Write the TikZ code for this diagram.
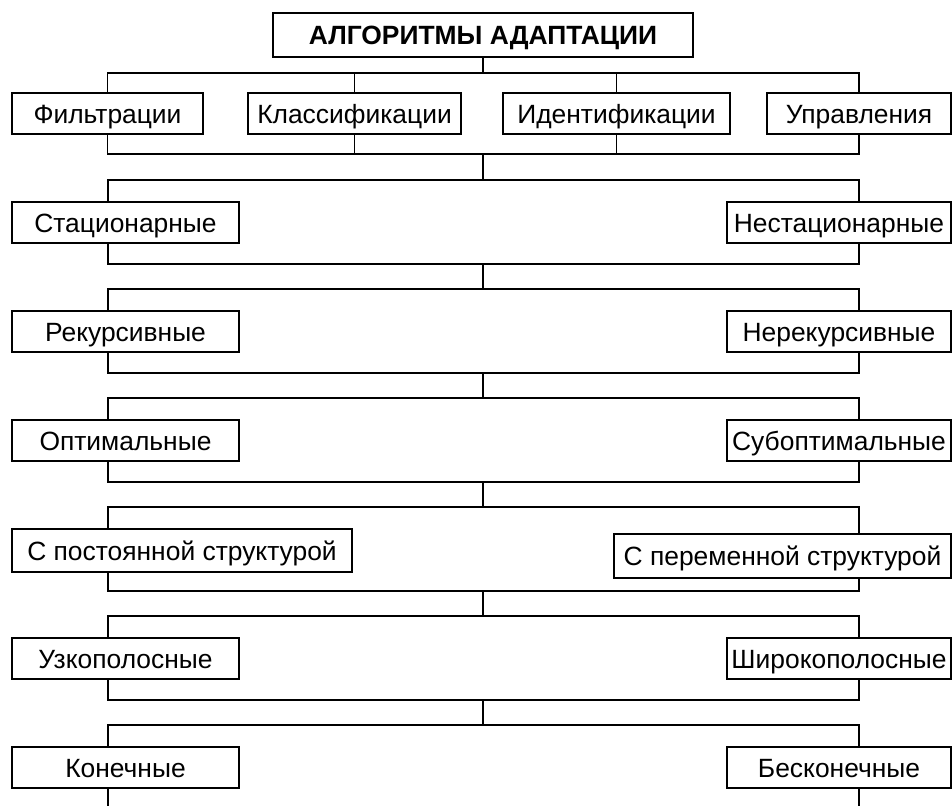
\documentclass[tikz,border=0pt]{standalone}
\usepackage{fontspec}
\setmainfont{Liberation Sans}
\usepackage{tikz}
\usetikzlibrary{positioning,calc}

\begin{document}
\begin{tikzpicture}[
    x=1pt, y=-1pt,
    box/.style={draw=black, line width=1.8pt, fill=white, minimum height=41pt, inner sep=0pt, text height=19pt, text depth=0pt, font=\fontsize{26.4}{30}\selectfont},
    head/.style={box, minimum width=420pt, minimum height=44pt, font=\fontsize{26.4}{30}\selectfont\bfseries},
    lbox/.style={box, minimum width=227pt},
    rbox/.style={box, minimum width=224pt},
    wire/.style={line width=1.8pt}
  ]
    \useasboundingbox (0,0) rectangle (952,806);
    \coordinate (sl) at (108,0);
    \coordinate (sr) at (859,0);
    \coordinate (bottom) at (483,806);

    % top level
    \node[head] (title) at (483,35) {АЛГОРИТМЫ АДАПТАЦИИ};
    \node[box, minimum width=191pt] (filt) at (107.5,113.5) {Фильтрации};
    \node[box, minimum width=213pt] (klass) at (354.5,113.5) {Классификации};
    \node[box, minimum width=227pt] (ident) at (616.5,113.5) {Идентификации};
    \node[box, minimum width=184pt] (upr) at (859,113.5) {Управления};
    \coordinate (top0) at (483,73);
    \coordinate (low0) at (483,154);
    \draw[wire] (title.south) -- (top0);
    \draw[wire] (filt.north) |- (top0) -| (upr.north);
    \draw[wire] (klass.north) -- (klass.north |- top0);
    \draw[wire] (ident.north) -- (ident.north |- top0);
    \draw[wire] (filt.south) |- (low0) -| (upr.south);
    \draw[wire] (klass.south) -- (klass.south |- low0);
    \draw[wire] (ident.south) -- (ident.south |- low0);

    % pairs
    \node[lbox] (stat) at (125.5,222.5) {Стационарные};
    \node[rbox] (nestat) at (839,222.5) {Нестационарные};
    \node[lbox] (rek) at (125.5,331.5) {Рекурсивные};
    \node[rbox] (nerek) at (839,331.5) {Нерекурсивные};
    \node[lbox] (opt) at (125.5,440.5) {Оптимальные};
    \node[rbox] (subopt) at (839,440.5) {Субоптимальные};
    \node[box, minimum width=340pt, minimum height=43pt] (postst) at (182,550.5) {С постоянной структурой};
    \node[box, minimum width=337pt, minimum height=44pt] (perst) at (782.5,556) {С переменной структурой};
    \node[lbox] (uzk) at (125.5,658.5) {Узкополосные};
    \node[rbox] (shir) at (839,658.5) {Широкополосные};
    \node[lbox] (kon) at (125.5,767.5) {Конечные};
    \node[rbox] (beskon) at (839,767.5) {Бесконечные};

    \coordinate (top1) at (483,180);
    \coordinate (low1) at (483,264);
    \coordinate (top2) at (483,289);
    \coordinate (low2) at (483,373);
    \coordinate (top3) at (483,398);
    \coordinate (low3) at (483,482);
    \coordinate (top4) at (483,507);
    \coordinate (low4) at (483,591);
    \coordinate (top5) at (483,616);
    \coordinate (low5) at (483,700);
    \coordinate (top6) at (483,725);

    \draw[wire] (low0) -- (top1);
    \draw[wire] (stat.north -| sl) |- (top1) -| (nestat.north -| sr);
    \draw[wire] (stat.south -| sl) |- (low1) -| (nestat.south -| sr);
    \draw[wire] (low1) -- (top2);
    \draw[wire] (rek.north -| sl) |- (top2) -| (nerek.north -| sr);
    \draw[wire] (rek.south -| sl) |- (low2) -| (nerek.south -| sr);
    \draw[wire] (low2) -- (top3);
    \draw[wire] (opt.north -| sl) |- (top3) -| (subopt.north -| sr);
    \draw[wire] (opt.south -| sl) |- (low3) -| (subopt.south -| sr);
    \draw[wire] (low3) -- (top4);
    \draw[wire] (postst.north -| sl) |- (top4) -| (perst.north -| sr);
    \draw[wire] (postst.south -| sl) |- (low4) -| (perst.south -| sr);
    \draw[wire] (low4) -- (top5);
    \draw[wire] (uzk.north -| sl) |- (top5) -| (shir.north -| sr);
    \draw[wire] (uzk.south -| sl) |- (low5) -| (shir.south -| sr);
    \draw[wire] (low5) -- (top6);
    \draw[wire] (kon.north -| sl) |- (top6) -| (beskon.north -| sr);
    \draw[wire] (kon.south -| sl) -- (sl |- bottom);
    \draw[wire] (beskon.south -| sr) -- (sr |- bottom);
  \end{tikzpicture}
\end{document}
